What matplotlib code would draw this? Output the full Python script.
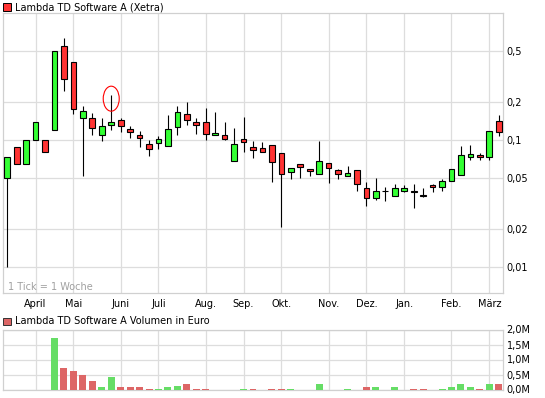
import numpy as np
import matplotlib
matplotlib.use('Agg')
import matplotlib.pyplot as plt
from matplotlib.patches import Rectangle, Ellipse
from matplotlib.ticker import NullLocator
from matplotlib.transforms import ScaledTranslation

# ── DATA (weekly candles, 53 weeks) ──────────────────────────────────────────
opens = [0.050, 0.0876, 0.0644, 0.0995, 0.0995, 0.119, 0.550, 0.409, 0.148, 0.148,
         0.109, 0.1305, 0.143, 0.121, 0.109, 0.0925, 0.0942, 0.0892, 0.126, 0.159,
         0.138, 0.138, 0.109, 0.109, 0.068, 0.101, 0.0876, 0.086, 0.0908, 0.0786,
         0.0557, 0.0644, 0.0588, 0.0537, 0.0656, 0.0577, 0.0518, 0.0577, 0.0417, 0.0348,
         0.0394, 0.036, 0.0395, 0.0398, 0.0366, 0.044, 0.0424, 0.0473, 0.0527, 0.0731,
         0.0758, 0.0731, 0.140]
highs = [0.0735, 0.0876, 0.0995, 0.138, 0.0995, 0.499, 0.636, 0.409, 0.184, 0.162,
         0.148, 0.225, 0.148, 0.129, 0.117, 0.100, 0.1075, 0.157, 0.185, 0.199,
         0.148, 0.178, 0.165, 0.138, 0.1236, 0.151, 0.0982, 0.0959, 0.0908, 0.0786,
         0.0599, 0.0644, 0.0588, 0.0982, 0.0656, 0.0588, 0.0621, 0.0577, 0.0465, 0.0499,
         0.0424, 0.0448, 0.044, 0.0448, 0.0417, 0.0448, 0.049, 0.0588, 0.0902, 0.0913,
         0.0786, 0.117, 0.1565]
lows = [0.010, 0.0644, 0.0644, 0.0995, 0.080, 0.119, 0.2445, 0.159, 0.0524, 0.110,
        0.0987, 0.119, 0.116, 0.104, 0.0886, 0.0752, 0.0854, 0.0892, 0.110, 0.1305,
        0.112, 0.0995, 0.109, 0.0995, 0.068, 0.080, 0.0726, 0.080, 0.047, 0.0208,
        0.0496, 0.0505, 0.0524, 0.0537, 0.0461, 0.0496, 0.0518, 0.0395, 0.0304, 0.0335,
        0.0329, 0.036, 0.0388, 0.0293, 0.0358, 0.0388, 0.0395, 0.0473, 0.0527, 0.0692,
        0.0692, 0.0692, 0.107]
closes = [0.0735, 0.0644, 0.0995, 0.138, 0.080, 0.499, 0.301, 0.1745, 0.168, 0.1236,
          0.128, 0.138, 0.128, 0.116, 0.103, 0.0845, 0.101, 0.121, 0.165, 0.143,
          0.1305, 0.111, 0.113, 0.101, 0.0925, 0.0959, 0.0829, 0.080, 0.0668, 0.0537,
          0.0599, 0.061, 0.0567, 0.068, 0.0599, 0.0537, 0.0547, 0.0448, 0.0348, 0.0395,
          0.0396, 0.0417, 0.0417, 0.0390, 0.0364, 0.0424, 0.0473, 0.0588, 0.0758, 0.0772,
          0.0731, 0.117, 0.115]
# volume in million euro
volumes = [0, 0, 0, 0, 0, 1.73, 0.71, 0.63, 0.50, 0.27,
           0.10, 0.43, 0.10, 0.07, 0.07, 0.03, 0.03, 0.10, 0.13, 0.17,
           0.03, 0.03, 0, 0, 0, 0.03, 0.03, 0, 0.03, 0.03,
           0.03, 0, 0, 0.20, 0, 0, 0.03, 0, 0.08, 0.07,
           0, 0.07, 0, 0.03, 0.03, 0, 0.03, 0.07, 0.20, 0.10,
           0.03, 0.20, 0.17]

month_weeks = [3, 7, 12, 16, 21, 25, 29, 34, 38, 42, 47, 51]
month_labels = ['April', 'Mai', 'Juni', 'Juli', 'Aug.', 'Sep.', 'Okt.',
                'Nov.', 'Dez.', 'Jan.', 'Feb.', 'März']
price_ticks = [0.01, 0.02, 0.05, 0.1, 0.2, 0.5]
price_labels = ['0,01', '0,02', '0,05', '0,1', '0,2', '0,5']
vol_ticks = [0.0, 0.5, 1.0, 1.5, 2.0]
vol_labels = ['0,0M', '0,5M', '1,0M', '1,5M', '2,0M']
marked_week = 11

# ── STYLE ────────────────────────────────────────────────────────────────────
GREEN = '#33FF33'
RED = '#FF3333'
VGREEN = '#66DD66'
VRED = '#DD6666'
GRID = '#DDDDDD'
FRAME = '#D0D0D0'
FS = 7

W, H = 545, 398
fig = plt.figure(figsize=(W / 100, H / 100), dpi=100)
fig.patch.set_facecolor('white')

x = np.arange(len(opens))
o = np.array(opens)
c = np.array(closes)


def style_axes(a):
    a.set_xlim(-0.45, len(opens) - 0.55)
    a.grid(True, color=GRID, linewidth=0.9, zorder=0)
    a.set_axisbelow(True)
    for s in a.spines.values():
        s.set_color(FRAME)
        s.set_linewidth(0.9)
    a.yaxis.tick_right()
    a.tick_params(axis='both', length=0, labelsize=FS, colors='black')
    a.tick_params(axis='y', pad=2.5)
    a.tick_params(axis='x', pad=4)


# price panel
ax = fig.add_axes([3 / W, 1 - 293 / H, 500 / W, 280 / H])
ax.set_yscale('log')
ax.set_ylim(0.00624, 1.0)
style_axes(ax)
ax.set_yticks(price_ticks)
ax.set_yticklabels(price_labels)
ax.yaxis.set_minor_locator(NullLocator())
ax.set_xticks(month_weeks)
ax.set_xticklabels(month_labels)

ax.vlines(x, lows, highs, color='black', linewidth=0.8, zorder=3)
up = c >= o
body_col = np.where(up, GREEN, RED)
ax.bar(x, np.abs(c - o), bottom=np.minimum(o, c), width=0.6,
       color=body_col, edgecolor='black', linewidth=0.8, zorder=4)

ax.text(0.01, 0.022, '1 Tick = 1 Woche', transform=ax.transAxes,
        fontsize=FS, color='#A0A0A0', va='center', ha='left')

# red circle around the marked wick
trans = fig.dpi_scale_trans + ScaledTranslation(marked_week, highs[marked_week] * 0.94,
                                                ax.transData)
ax.add_artist(Ellipse((0, 0), 0.16, 0.25, fill=False, edgecolor='red',
                      linewidth=0.8, transform=trans, zorder=5))

# volume panel
vax = fig.add_axes([3 / W, 1 - 389.5 / H, 500 / W, 60 / H])
style_axes(vax)
vax.set_ylim(0, 2.0)
vax.set_yticks(vol_ticks)
vax.set_yticklabels(vol_labels)
vax.set_xticks(month_weeks)
vax.set_xticklabels([])
prev = np.concatenate([[c[0]], c[:-1]])
vol_col = np.where(c >= prev, VGREEN, VRED)
vax.bar(x, volumes, width=0.74, color=vol_col, zorder=3)

# headers with legend squares
fig.patches.append(Rectangle((3 / W, 1 - 10.5 / H), 7.5 / W, 7.5 / H,
                             transform=fig.transFigure, facecolor=RED,
                             edgecolor='black', linewidth=0.7))
fig.text(15 / W, 1 - 7 / H, 'Lambda TD Software A (Xetra)', fontsize=FS,
         va='center', ha='left')
fig.patches.append(Rectangle((3 / W, 1 - 325 / H), 7.5 / W, 7.5 / H,
                             transform=fig.transFigure, facecolor=VRED,
                             edgecolor='#333333', linewidth=0.7))
fig.text(15 / W, 1 - 321.5 / H, 'Lambda TD Software A Volumen in Euro',
         fontsize=FS, va='center', ha='left')

fig.savefig('out.png', dpi=100, facecolor='white')
